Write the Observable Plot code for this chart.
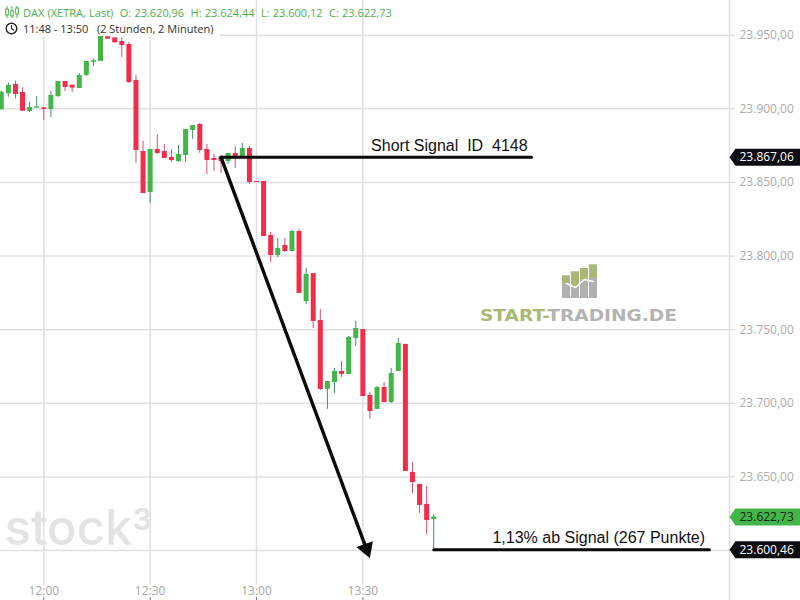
<!DOCTYPE html>
<html>
<head>
<meta charset="utf-8">
<script src="https://cdn.jsdelivr.net/npm/d3@7"></script>
<script src="https://cdn.jsdelivr.net/npm/@observablehq/plot@0.6"></script>
<style>
html,body{margin:0;padding:0;background:#fff;}
#wrap{position:relative;width:800px;height:600px;overflow:hidden;font-family:"Open Sans",sans-serif;}
#wrap svg text{white-space:pre;}
#head{position:absolute;left:0;top:0;width:220px;height:36px;background:#fff;}
.row{position:absolute;left:23px;font-size:11px;white-space:pre;line-height:14px;}
#r1{top:6px;color:#4caf50;word-spacing:.35px;}
#r2{top:22px;color:#2f2f33;}
.ico{position:absolute;left:5px;}
#logo{position:absolute;left:480px;top:306px;font:bold 16px "DejaVu Sans",sans-serif;white-space:pre;line-height:20px;transform-origin:0 0;transform:scaleX(1.16);}
#logoBars{position:absolute;left:560px;top:263px;}
</style>
</head>
<body>
<div id="wrap">
<div id="chart"></div>
<div id="logoBars"></div>
<div id="logo"><span style="color:#a9b874">START-</span><span style="color:#b3b3b3">TRADING.DE</span></div>
<div id="head"></div>
<svg class="ico" style="top:6px" width="14" height="12" viewBox="0 0 14 12" fill="none" stroke="#4caf50"><path d="M2 0V12M7 0V12M12 0V12" stroke-width="1"/><rect x="0.7" y="3" width="2.6" height="6" fill="#fff"/><rect x="5.7" y="5" width="2.6" height="5" fill="#fff"/><rect x="10.7" y="2" width="2.6" height="6" fill="#fff"/></svg>
<svg class="ico" style="top:22px" width="13" height="13" viewBox="0 0 13 13" fill="none" stroke="#222"><circle cx="6.5" cy="6.5" r="5.3" stroke-width="1.4"/><path d="M6.5 3.2V6.7L9 8.2" stroke-width="1.2"/></svg>
<div class="row" id="r1">DAX (XETRA, Last)  O: 23.620,96  H: 23.624,44  L: 23.600,12  C: 23.622,73</div>
<div class="row" id="r2">11:48 - 13:50   (2 Stunden, 2 Minuten)</div>
</div>
<script>
const at = (h, m, s = 0) => new Date(Date.UTC(2025, 0, 2, h, m, s));

// Candles every two minutes, 11:48 to 13:50
const opens = [23899.3,23910.2,23916.5,23911.1,23898.2,23900.5,23900.7,23899.6,23908.4,23918.6,23916.1,23913.8,23922.7,23931.7,23932.2,23949.0,23948.2,23945.8,23943.7,23919.3,23871.0,23843.2,23872.4,23871.0,23867.0,23864.2,23868.3,23885.3,23889.4,23872.4,23866.3,23867.0,23864.2,23869.7,23867.6,23873.1,23850.7,23850.7,23814.0,23800.4,23807.2,23803.1,23816.7,23769.1,23788.1,23756.2,23709.4,23714.1,23721.6,23719.6,23744.0,23750.1,23705.3,23695.8,23710.7,23700.5,23721.6,23740.0,23653.0,23644.9,23631.3,23620.96];
const highs = [23912.0,23917.7,23918.8,23914.3,23904.3,23908.4,23900.7,23911.8,23918.6,23918.6,23916.1,23924.0,23932.2,23933.8,23951.0,23949.0,23948.2,23948.2,23945.1,23922.7,23877.8,23872.4,23882.6,23875.8,23872.4,23875.1,23886.0,23888.7,23890.1,23875.8,23869.0,23867.0,23869.7,23874.4,23876.5,23874.4,23850.7,23850.7,23816.0,23811.9,23811.9,23817.4,23818.1,23791.6,23788.1,23763.7,23714.8,23723.7,23728.4,23745.4,23755.6,23750.1,23707.3,23711.4,23714.1,23723.7,23744.0,23740.0,23659.8,23644.9,23643.5,23624.44];
const lows = [23899.3,23907.9,23906.8,23898.4,23897.5,23900.5,23892.1,23894.1,23907.7,23911.8,23911.1,23913.8,23922.0,23928.8,23932.2,23947.3,23944.8,23934.9,23917.2,23862.9,23842.5,23835.7,23869.0,23866.3,23863.6,23863.6,23863.6,23879.2,23869.7,23855.4,23857.4,23856.1,23862.2,23859.5,23867.6,23848.6,23850.0,23813.3,23795.6,23799.0,23802.4,23803.1,23774.6,23767.1,23750.8,23708.7,23695.8,23706.7,23717.5,23719.6,23738.6,23704.6,23689.0,23695.8,23700.5,23699.9,23721.6,23653.7,23638.7,23625.2,23610.9,23600.12];
const closes = [23911.3,23915.9,23909.8,23898.4,23900.9,23901.4,23899.6,23909.1,23918.6,23914.5,23914.1,23922.7,23932.2,23932.8,23951.0,23947.3,23944.8,23943.0,23917.9,23871.7,23842.5,23872.4,23869.7,23866.3,23864.9,23869.0,23886.0,23888.7,23871.7,23864.9,23864.9,23864.2,23869.7,23866.0,23873.1,23850.0,23850.0,23813.3,23800.4,23805.1,23803.1,23816.7,23774.6,23787.5,23755.6,23709.4,23714.8,23721.6,23719.6,23744.7,23750.8,23704.6,23694.4,23710.7,23700.5,23720.2,23740.6,23653.7,23646.2,23630.6,23620.4,23622.73];
const times = opens.map((_, i) => d3.utcMinute.offset(at(11, 48), i * 2));

const priceTicks = [23600,23650,23700,23750,23800,23850,23900,23950];
const timeTicks = [at(12,0),at(12,30),at(13,0),at(13,30)];
const xDomain = [at(11,47,47), at(15,13,26)];
const yDomain = [23566.03, 23973.6];

const signalPrice = 23867.06, lastPrice = 23622.73, targetPrice = 23600.46;
const flagPrices = [signalPrice, lastPrice, targetPrice];
const flagFills = ["#0d0d12","#44b549","#0d0d12"];
const flagInks = ["#ffffff","#10240f","#ffffff"];

const signalLine = [[at(12,50),signalPrice],[at(14,17,34),signalPrice]];
const targetLine = [[at(13,50),targetPrice],[at(15,7,46),targetPrice]];
const arrowLine = [[at(12,50),signalPrice],[at(13,31),23601.1]];

const candles = times.map((t,i)=>({t,o:opens[i],h:highs[i],l:lows[i],c:closes[i]}));
const up = d => d.c >= d.o;
const GREEN="#44b549", RED="#f22c4a", WGREEN="#3e8d70", WRED="#d9506c", GRID="#dfdfe6";
const fmt = d3.formatLocale({decimal:",",thousands:".",grouping:[3],currency:["","€"]}).format(",.2f");
const flagShape = {draw(c){c.moveTo(0,0);c.lineTo(6,-8.5);c.lineTo(71,-8.5);c.lineTo(71,8.5);c.lineTo(6,8.5);c.closePath();}};
const FONT='"Open Sans",sans-serif', ARIAL='"Liberation Sans",Arial,sans-serif';

const chart = Plot.plot({
  width:800,height:600,marginLeft:0,marginRight:71,marginTop:0,marginBottom:0,
  style:{background:"transparent",fontFamily:FONT},
  x:{type:"utc",domain:xDomain,axis:null},
  y:{domain:yDomain,axis:null},
  marks:[
    Plot.ruleY(priceTicks,{y:d=>d,stroke:GRID,strokeWidth:1.5}),
    Plot.ruleX(timeTicks,{x:d=>d,y1:23576,y2:yDomain[1],stroke:GRID,strokeWidth:1.5}),
    Plot.ruleX(timeTicks,{x:d=>d,y1:yDomain[0],y2:23568,stroke:"#777",strokeWidth:1}),
    Plot.ruleX([xDomain[1]],{x:d=>d,stroke:GRID,strokeWidth:1.5}),
    Plot.axisY({anchor:"right",ticks:priceTicks,tickSize:5,tickPadding:5,tickFormat:fmt,fontSize:12,stroke:"#d0d0d6",fill:"#ababab",label:null}),
    Plot.text(["stock"],{frameAnchor:"bottom-left",dx:4,dy:-56,text:d=>d,textAnchor:"start",fontFamily:'Inter,sans-serif',fontWeight:500,fontSize:49,fill:"#e3e3e3"}),
    Plot.text(["3"],{frameAnchor:"bottom-left",dx:132,dy:-71,text:d=>d,textAnchor:"start",fontFamily:'Inter,sans-serif',fontWeight:700,fontSize:30,fill:"#e3e3e3"}),
    Plot.ruleX(candles,{x:"t",y1:"l",y2:"h",stroke:d=>up(d)?WGREEN:WRED,strokeWidth:1}),
    Plot.ruleX(candles,{x:"t",y1:"o",y2:"c",stroke:d=>up(d)?GREEN:RED,strokeWidth:5}),
    Plot.line(signalLine,{x:"0",y:"1",stroke:"#0a0a0a",strokeWidth:3}),
    Plot.line(targetLine,{x:"0",y:"1",stroke:"#0a0a0a",strokeWidth:3}),
    Plot.line(arrowLine,{x:"0",y:"1",stroke:"#0a0a0a",strokeWidth:3.4}),
    Plot.dot([arrowLine[1]],{x:"0",y:"1",symbol:"triangle",r:6.5,rotate:160,fill:"#0a0a0a",stroke:"none"}),
    Plot.text(["Short Signal  ID  4148"],{x:at(13,32,20),y:23875.1,text:d=>d,textAnchor:"start",fontFamily:ARIAL,fontSize:16,fill:"#111"}),
    Plot.text(["1,13% ab Signal (267 Punkte)"],{x:at(14,6,34),y:23608.5,text:d=>d,textAnchor:"start",fontFamily:ARIAL,fontSize:16,fill:"#111"}),
    Plot.text(timeTicks,{x:d=>d,frameAnchor:"bottom",dy:-6,lineAnchor:"bottom",text:d=>d3.utcFormat("%H:%M")(d),fontSize:12,fill:"#a8a8a8"}),
    Plot.dot(flagPrices,{frameAnchor:"right",y:d=>d,symbol:flagShape,fill:(d,i)=>flagFills[i],stroke:"none"}),
    Plot.text(flagPrices,{frameAnchor:"right",y:d=>d,dx:10,textAnchor:"start",text:d=>fmt(d),fontSize:12,fill:(d,i)=>flagInks[i]})
  ]
});
document.getElementById("chart").appendChild(chart);

// Logo bars
const logoIds = [0,1,2,3];
const logoGray = [14.3,12,18.7,20];
const logoOlive = [8.4,14.7,11.3,13.7];
const logoZig = [15,11,19,17];
const logo = Plot.plot({
  width:38,height:36,margin:0,marginTop:1,marginBottom:1,
  style:{background:"transparent"},
  x:{type:"band",domain:logoIds,padding:0.13,axis:null},
  y:{domain:[0,34],axis:null},
  marks:[
    Plot.barY(logoIds,{x:d=>d,y1:0,y2:i=>logoGray[i],fill:"#b0b0b0"}),
    Plot.barY(logoIds,{x:d=>d,y1:i=>logoGray[i],y2:i=>logoGray[i]+logoOlive[i],fill:"#a9b874"}),
    Plot.line(logoIds,{x:d=>d,y:i=>logoZig[i],stroke:"#fff",strokeWidth:1.5})
  ]
});
document.getElementById("logoBars").appendChild(logo);
</script>
</body>
</html>
